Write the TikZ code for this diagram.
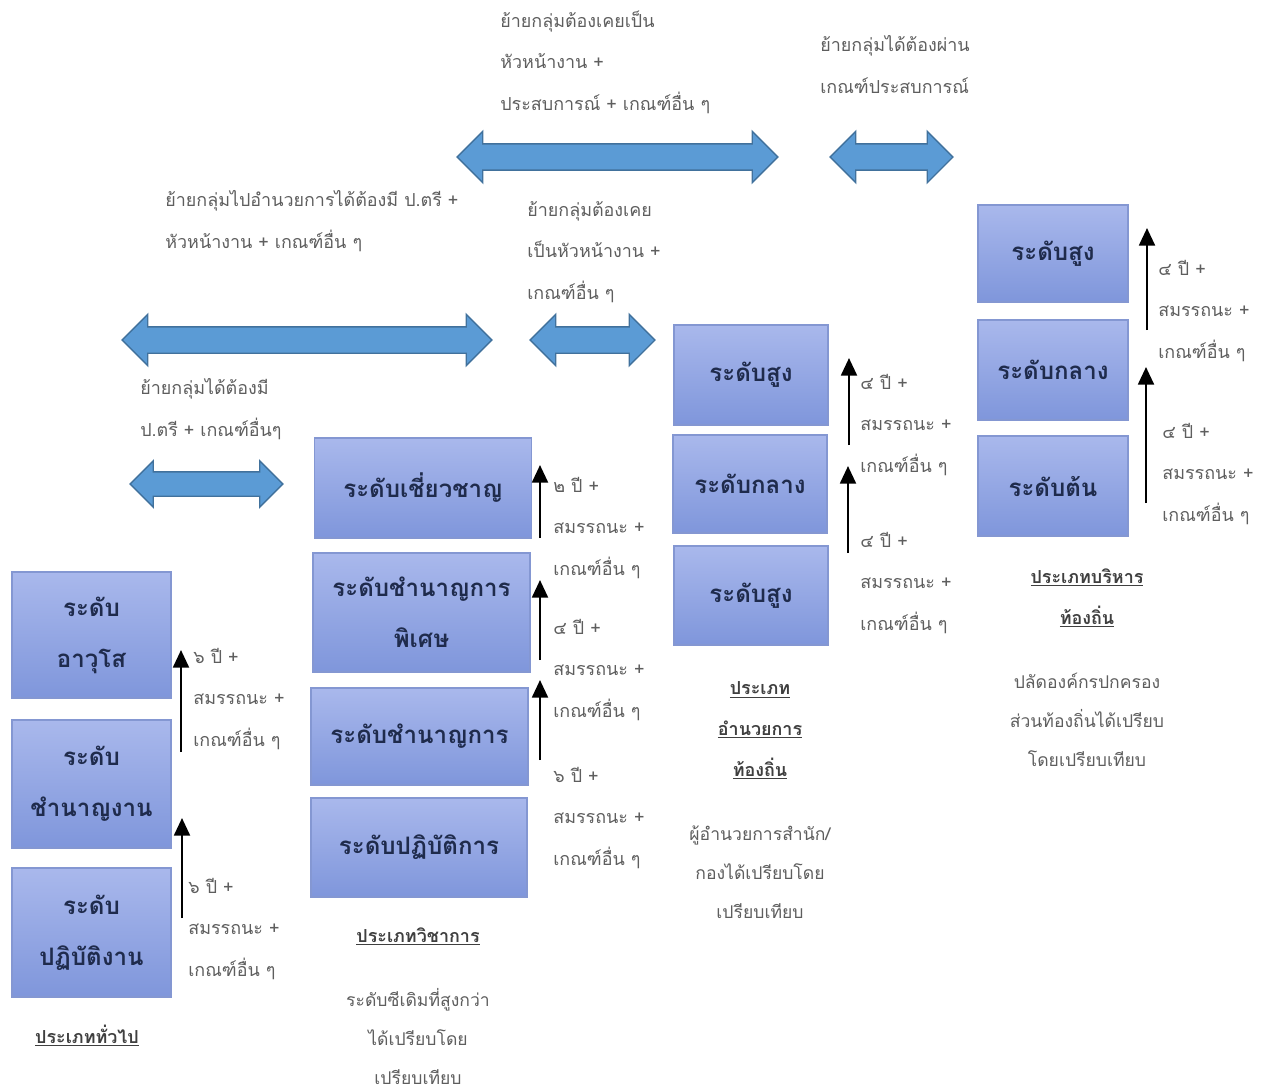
\documentclass[tikz,border=0pt]{standalone}
\usepackage{fontspec}
\setmainfont[Script=Thai]{Loma}
\usepackage{tikz}
\usetikzlibrary{arrows.meta,shapes.arrows,positioning}
\definecolor{boxtop}{HTML}{A9B8EC}
\definecolor{boxbot}{HTML}{7F96DB}
\definecolor{boxedge}{HTML}{8497D2}
\definecolor{boxtext}{HTML}{1F2B4C}
\definecolor{arrfill}{HTML}{5B9BD5}
\definecolor{arredge}{HTML}{41719C}
\definecolor{notegray}{HTML}{5E5E5E}
\definecolor{catgray}{HTML}{3F3F3F}

\begin{document}
\begin{tikzpicture}[x=0.02cm,y=-0.02cm,
  lvl/.style={draw=boxedge,line width=0.6pt,top color=boxtop,bottom color=boxbot,
    text=boxtext,font=\bfseries\fontsize{13.7}{29}\selectfont,align=center,inner sep=0pt},
  dblarr/.style={double arrow,draw=arredge,fill=arrfill,line width=0.8pt,
    inner xsep=0pt,inner ysep=0.25cm,minimum width=0pt,
    double arrow head extend=0.25cm,double arrow head indent=0pt},
  uparr/.style={-{Triangle[length=10pt,width=9pt]},line width=1.4pt,black},
  note/.style={text=notegray,font=\fontsize{10.2}{23.6}\selectfont,align=left,
    anchor=base west,inner sep=0pt},
  cnote/.style={note,font=\fontsize{10}{22}\selectfont,align=center,anchor=base},
  cat/.style={text=catgray,font=\bfseries\fontsize{10.2}{23.2}\selectfont,
    align=center,anchor=base,inner sep=0pt}]
  \useasboundingbox (0,0) rectangle (1269,1092);

  % block arrows between the groups
  \node[dblarr,minimum height=6.42cm] (mvA) at (617.5,157) {};
  \node[dblarr,minimum height=2.46cm] (mvB) at (891.5,157) {};
  \node[dblarr,minimum height=7.4cm] (mvC) at (307,340) {};
  \node[dblarr,minimum height=2.5cm] (mvD) at (592.5,340) {};
  \node[dblarr,minimum height=3.06cm,inner ysep=0.23cm,double arrow head extend=0.22cm] (mvE) at (206.5,484) {};

  \node[note] (tA) at (500,110) {ย้ายกลุ่มต้องเคยเป็น\\หัวหน้างาน +\\ประสบการณ์ + เกณฑ์อื่น ๆ};
  \node[note] (tB) at (820,93) {ย้ายกลุ่มได้ต้องผ่าน\\เกณฑ์ประสบการณ์};
  \node[note] (tC) at (165,248) {ย้ายกลุ่มไปอำนวยการได้ต้องมี ป.ตรี +\\หัวหน้างาน + เกณฑ์อื่น ๆ};
  \node[note] (tD) at (527,299) {ย้ายกลุ่มต้องเคย\\เป็นหัวหน้างาน +\\เกณฑ์อื่น ๆ};
  \node[note] (tE) at (140,436) {ย้ายกลุ่มได้ต้องมี\\ป.ตรี + เกณฑ์อื่นๆ};

  % general
  \node[lvl,minimum width=3.18cm,minimum height=2.52cm] (g3) at (91.5,635) {ระดับ\\อาวุโส};
  \node[lvl,minimum width=3.18cm,minimum height=2.56cm] (g2) at (91.5,784) {ระดับ\\ชำนาญงาน};
  \node[lvl,minimum width=3.18cm,minimum height=2.58cm] (g1) at (91.5,932.5) {ระดับ\\ปฏิบัติงาน};
  \coordinate (g12a) at (182,918);
  \coordinate (g12b) at (182,818);
  \coordinate (g23a) at (181,752);
  \coordinate (g23b) at (181,650);
  \draw[uparr] (g12a) -- (g12b);
  \draw[uparr] (g23a) -- (g23b);
  \node[note] (ng2) at (193,746) {๖ ปี +\\สมรรถนะ +\\เกณฑ์อื่น ๆ};
  \node[note] (ng1) at (188,976) {๖ ปี +\\สมรรถนะ +\\เกณฑ์อื่น ๆ};
  \node[cat] (catg) at (87,1043) {\underline{ประเภททั่วไป}};

  % academic
  \node[lvl,minimum width=4.34cm,minimum height=2cm] (a4) at (423,488) {ระดับเชี่ยวชาญ};
  \node[lvl,minimum width=4.34cm,minimum height=2.38cm] (a3) at (421.5,612.5) {ระดับชำนาญการ\\พิเศษ};
  \node[lvl,minimum width=4.34cm,minimum height=1.94cm] (a2) at (419.5,736.5) {ระดับชำนาญการ};
  \node[lvl,minimum width=4.32cm,minimum height=1.98cm] (a1) at (419,847.5) {ระดับปฏิบัติการ};
  \coordinate (a12a) at (540,760);
  \coordinate (a12b) at (540,680);
  \coordinate (a23a) at (540,660);
  \coordinate (a23b) at (540,580);
  \coordinate (a34a) at (540,538);
  \coordinate (a34b) at (540,465);
  \draw[uparr] (a12a) -- (a12b);
  \draw[uparr] (a23a) -- (a23b);
  \draw[uparr] (a34a) -- (a34b);
  \node[note] (na3) at (553,575) {๒ ปี +\\สมรรถนะ +\\เกณฑ์อื่น ๆ};
  \node[note] (na2) at (553,717) {๔ ปี +\\สมรรถนะ +\\เกณฑ์อื่น ๆ};
  \node[note] (na1) at (553,865) {๖ ปี +\\สมรรถนะ +\\เกณฑ์อื่น ๆ};
  \node[cat] (cata) at (418,942) {\underline{ประเภทวิชาการ}};
  \node[cnote] (xa) at (418,1084) {ระดับซีเดิมที่สูงกว่า\\ได้เปรียบโดย\\เปรียบเทียบ};

  % director
  \node[lvl,minimum width=3.08cm,minimum height=2cm] (d3) at (751,375) {ระดับสูง};
  \node[lvl,minimum width=3.08cm,minimum height=1.96cm] (d2) at (750,484) {ระดับกลาง};
  \node[lvl,minimum width=3.08cm,minimum height=1.98cm] (d1) at (751,595.5) {ระดับสูง};
  \coordinate (d12a) at (848,553);
  \coordinate (d12b) at (848,466);
  \coordinate (d23a) at (849,445);
  \coordinate (d23b) at (849,358);
  \draw[uparr] (d12a) -- (d12b);
  \draw[uparr] (d23a) -- (d23b);
  \node[note] (nd2) at (860,472) {๔ ปี +\\สมรรถนะ +\\เกณฑ์อื่น ๆ};
  \node[note] (nd1) at (860,630) {๔ ปี +\\สมรรถนะ +\\เกณฑ์อื่น ๆ};
  \node[cat] (catd) at (760,776) {\underline{ประเภท}\\\underline{อำนวยการ}\\\underline{ท้องถิ่น}};
  \node[cnote] (xd) at (760,918) {ผู้อำนวยการสำนัก/\\กองได้เปรียบโดย\\เปรียบเทียบ};

  % executive
  \node[lvl,minimum width=3cm,minimum height=1.94cm] (e3) at (1053,253.5) {ระดับสูง};
  \node[lvl,minimum width=3cm,minimum height=2cm] (e2) at (1053,370) {ระดับกลาง};
  \node[lvl,minimum width=3cm,minimum height=2cm] (e1) at (1053,486) {ระดับต้น};
  \coordinate (e12a) at (1146,503);
  \coordinate (e12b) at (1146,367);
  \coordinate (e23a) at (1147,330);
  \coordinate (e23b) at (1147,228);
  \draw[uparr] (e12a) -- (e12b);
  \draw[uparr] (e23a) -- (e23b);
  \node[note] (ne2) at (1158,358) {๔ ปี +\\สมรรถนะ +\\เกณฑ์อื่น ๆ};
  \node[note] (ne1) at (1162,521) {๔ ปี +\\สมรรถนะ +\\เกณฑ์อื่น ๆ};
  \node[cat] (cate) at (1087,624) {\underline{ประเภทบริหาร}\\\underline{ท้องถิ่น}};
  \node[cnote] (xe) at (1087,766) {ปลัดองค์กรปกครอง\\ส่วนท้องถิ่นได้เปรียบ\\โดยเปรียบเทียบ};
\end{tikzpicture}
\end{document}
